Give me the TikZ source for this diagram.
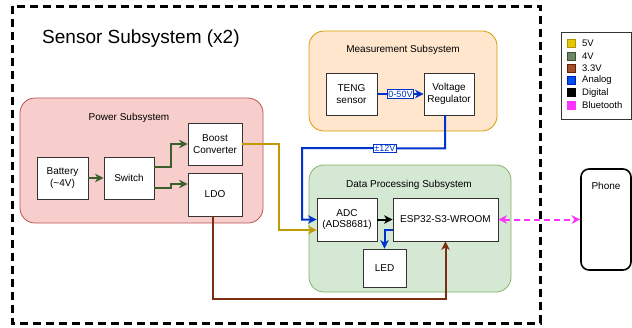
\documentclass[tikz,border=0pt]{standalone}
\usepackage{fontspec}
\setmainfont{Liberation Sans}
\usetikzlibrary{arrows.meta,calc}

\definecolor{pwrfill}{HTML}{F8CECC}\definecolor{pwrdraw}{HTML}{B85450}
\definecolor{measfill}{HTML}{FFE6CC}\definecolor{measdraw}{HTML}{D79B00}
\definecolor{datafill}{HTML}{D5E8D4}\definecolor{datadraw}{HTML}{82B366}
\definecolor{cfive}{HTML}{BF9A00}\definecolor{cfivesw}{HTML}{E3C800}\definecolor{cfivebd}{HTML}{B09500}
\definecolor{cfour}{HTML}{3A5F2A}\definecolor{cfoursw}{HTML}{6D8764}\definecolor{cfourbd}{HTML}{3A5431}
\definecolor{cthree}{HTML}{7A2E12}\definecolor{cthreesw}{HTML}{A0522D}\definecolor{cthreebd}{HTML}{6D1F00}
\definecolor{canalog}{HTML}{0033CC}\definecolor{canalogsw}{HTML}{0050EF}\definecolor{canalogbd}{HTML}{001DBC}
\definecolor{cblue}{HTML}{FF33FF}

\tikzset{
  txt/.style={font=\fontsize{10}{11.5}\selectfont, align=center},
  blk/.style={txt, draw=black!80, line width=0.8pt, fill=white, inner sep=1pt},
  grp/.style={rounded corners=15pt, line width=0.8pt},
  conn/.style={line width=2pt, -{Stealth[length=8.5pt,width=8.5pt,inset=2.5pt]}},
  vfive/.style={conn, cfive},
  vfour/.style={conn, cfour},
  vthree/.style={conn, cthree},
  analog/.style={conn, canalog},
  digital/.style={conn, black},
  wireless/.style={line width=2pt, cblue, dash pattern=on 6pt off 4pt,
    {Stealth[length=8.5pt,width=8.5pt,inset=2.5pt]}-{Stealth[length=8.5pt,width=8.5pt,inset=2.5pt]}},
  lbl/.style={font=\fontsize{9}{9.5}\selectfont, text=canalog, draw=canalog,
    line width=0.8pt, fill=white, inner sep=1pt},
  swatch/.style={minimum width=8pt, minimum height=8pt, inner sep=0pt, line width=0.6pt},
  legtxt/.style={font=\fontsize{9.5}{10}\selectfont, anchor=west, inner sep=0pt},
}

\begin{document}
\begin{tikzpicture}[x=1pt, y=-1pt]
\useasboundingbox (0,0) rectangle (632,327);

% outer frame of the sensor subsystem
\draw[line width=3pt, dash pattern=on 8pt off 5pt] (12,6) rectangle (540,323);
\node[anchor=west, font=\fontsize{19}{21}\selectfont, inner sep=0pt] (title) at (42,39) {Sensor Subsystem (x2)};

% subsystem groups
\draw[grp, fill=pwrfill, draw=pwrdraw] (20,98) rectangle (263,223);
\node[txt] (pwrlbl) at (129,118) {Power Subsystem};
\draw[grp, fill=measfill, draw=measdraw] (309,31) rectangle (497,131);
\node[txt] (measlbl) at (403,50) {Measurement Subsystem};
\draw[grp, fill=datafill, draw=datadraw] (309,165) rectangle (511,292);
\node[txt] (datalbl) at (409,185) {Data Processing Subsystem};

% blocks
\node[blk, minimum width=51pt, minimum height=42pt] (bat) at (62.5,178) {Battery\\(\textasciitilde4V)};
\node[blk, minimum width=50pt, minimum height=42pt] (sw) at (129,178) {Switch};
\node[blk, minimum width=54pt, minimum height=42pt] (boost) at (215,144) {Boost\\Converter};
\node[blk, minimum width=54pt, minimum height=43pt] (ldo) at (215,194.5) {LDO};
\node[blk, minimum width=51pt, minimum height=42pt] (teng) at (351.5,94) {TENG\\sensor};
\node[blk, minimum width=50pt, minimum height=42pt] (vreg) at (449,94) {Voltage\\Regulator};
\node[blk, minimum width=60pt, minimum height=43pt] (adc) at (347,219.5) {ADC\\(ADS8681)};
\node[blk, minimum width=105pt, minimum height=43pt] (esp) at (445.5,219.5) {ESP32-S3-WROOM};
\node[blk, minimum width=43pt, minimum height=38pt] (led) at (384.5,268) {LED};
\node[draw, line width=1.6pt, rounded corners=8pt, fill=white, minimum width=50pt,
      minimum height=101pt] (phone) at (606,219.5) {};
\node[txt] (phonelbl) at (606,186) {Phone};

% power wiring
\draw[vfour] (bat) -- (sw);
\draw[vfour] ([yshift=11pt]sw.east) -- ++(17,0) |- (boost.west);
\draw[vfour] ([yshift=-10pt]sw.east) -- ++(17,0) -- ++(0,-4) -- ([yshift=10.5pt]ldo.west);
\draw[vfive] (boost.east) -- ++(37,0) |- ([yshift=-10.5pt]adc.west);
\draw[vthree] ([xshift=-2pt]ldo.south) -- ++(0,83) -| (esp.south);

% signal wiring
\draw[analog] (teng) -- node[lbl] {0-50V} (vreg);
\draw[analog] ([xshift=-4pt]vreg.south) -- ++(0,33) coordinate (bendA)
  -- node[lbl, pos=0.42] {±12V} (302,148) |- (adc.west);
\draw[digital] (adc) -- (esp);
\draw[analog] ([yshift=-10.5pt]esp.west) -| (led.north);
\draw[wireless] (esp.east) -- (phone.west);

% legend
\draw[line width=0.6pt, draw=black!80, fill=white] (561,32) rectangle (631.5,119);
\foreach \i/\sw/\bd/\name in {0/cfivesw/cfivebd/5V, 1/cfoursw/cfourbd/4V, 2/cthreesw/cthreebd/3.3V,
    3/canalogsw/canalogbd/Analog, 4/black/black/Digital, 5/cblue/cblue/Bluetooth}{
  \node[swatch, fill=\sw, draw=\bd] (sw\i) at (571,43.5+12.3*\i) {};
  \node[legtxt] (lt\i) at (582,43.5+12.3*\i) {\name};
}
\end{tikzpicture}
\end{document}
